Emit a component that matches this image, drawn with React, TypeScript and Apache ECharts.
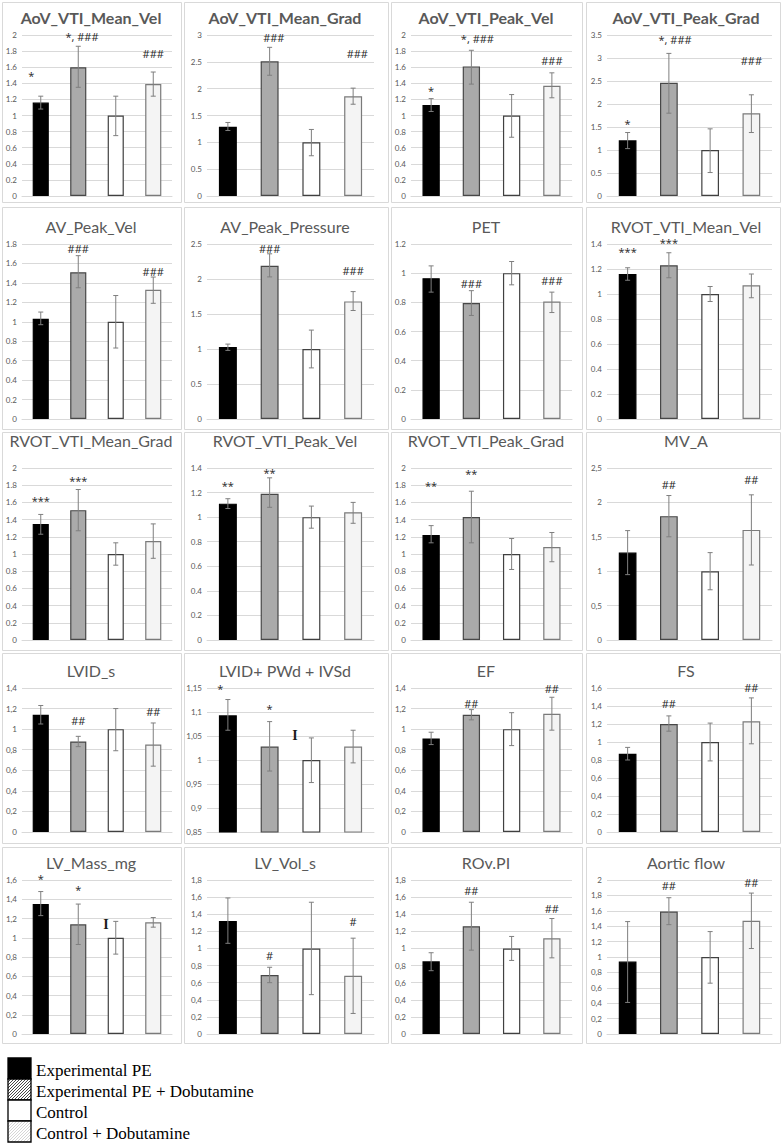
import React, { useEffect, useRef } from 'react';
import * as echarts from 'echarts';

const groups = ['Experimental PE', 'Experimental PE + Dobutamine', 'Control', 'Control + Dobutamine'];

const titles = [
  'AoV_VTI_Mean_Vel', 'AoV_VTI_Mean_Grad', 'AoV_VTI_Peak_Vel', 'AoV_VTI_Peak_Grad',
  'AV_Peak_Vel', 'AV_Peak_Pressure', 'PET', 'RVOT_VTI_Mean_Vel',
  'RVOT_VTI_Mean_Grad', 'RVOT_VTI_Peak_Vel', 'RVOT_VTI_Peak_Grad', 'MV_A',
  'LVID_s', 'LVID+ PWd + IVSd', 'EF', 'FS',
  'LV_Mass_mg', 'LV_Vol_s', 'ROv.PI', 'Aortic flow',
];

const means = [
  [1.16, 1.60, 1.00, 1.39],
  [1.29, 2.51, 1.00, 1.86],
  [1.13, 1.61, 1.00, 1.37],
  [1.21, 2.46, 1.00, 1.80],
  [1.03, 1.51, 1.00, 1.33],
  [1.03, 2.19, 1.00, 1.68],
  [0.965, 0.795, 1.00, 0.805],
  [1.16, 1.23, 1.00, 1.07],
  [1.35, 1.51, 1.00, 1.15],
  [1.11, 1.19, 1.00, 1.04],
  [1.22, 1.43, 1.00, 1.08],
  [1.27, 1.80, 1.00, 1.60],
  [1.14, 0.88, 1.00, 0.85],
  [1.093, 1.028, 1.00, 1.028],
  [0.91, 1.14, 1.00, 1.15],
  [0.87, 1.20, 1.00, 1.23],
  [1.35, 1.14, 1.00, 1.16],
  [1.32, 0.69, 1.00, 0.68],
  [0.85, 1.26, 1.00, 1.12],
  [0.94, 1.59, 1.00, 1.47],
];

const errHigh = [
  [1.24, 1.86, 1.24, 1.54],
  [1.37, 2.77, 1.24, 2.01],
  [1.21, 1.81, 1.26, 1.53],
  [1.38, 3.10, 1.46, 2.20],
  [1.10, 1.68, 1.27, 1.46],
  [1.07, 2.36, 1.27, 1.82],
  [1.05, 0.88, 1.08, 0.87],
  [1.21, 1.33, 1.06, 1.16],
  [1.46, 1.75, 1.13, 1.35],
  [1.15, 1.32, 1.09, 1.12],
  [1.33, 1.73, 1.18, 1.25],
  [1.59, 2.10, 1.27, 2.11],
  [1.23, 0.93, 1.20, 1.06],
  [1.126, 1.080, 1.046, 1.062],
  [0.97, 1.19, 1.16, 1.31],
  [0.94, 1.29, 1.21, 1.49],
  [1.48, 1.35, 1.17, 1.21],
  [1.59, 0.78, 1.54, 1.12],
  [0.95, 1.54, 1.14, 1.35],
  [1.46, 1.77, 1.33, 1.83],
];

const errLow = [
  [1.08, 1.35, 0.75, 1.24],
  [1.22, 2.25, 0.75, 1.71],
  [1.05, 1.39, 0.73, 1.22],
  [1.03, 1.80, 0.51, 1.38],
  [0.97, 1.35, 0.73, 1.19],
  [0.98, 2.03, 0.73, 1.55],
  [0.87, 0.71, 0.92, 0.73],
  [1.11, 1.13, 0.94, 0.97],
  [1.23, 1.27, 0.87, 0.95],
  [1.07, 1.08, 0.91, 0.95],
  [1.13, 1.13, 0.82, 0.91],
  [0.95, 1.50, 0.73, 1.09],
  [1.05, 0.83, 0.79, 0.64],
  [1.062, 0.977, 0.953, 0.994],
  [0.85, 1.09, 0.84, 0.99],
  [0.80, 1.12, 0.79, 0.98],
  [1.23, 0.93, 0.83, 1.11],
  [1.06, 0.60, 0.46, 0.24],
  [0.74, 0.98, 0.86, 0.89],
  [0.41, 1.42, 0.66, 1.11],
];

const yMin = [0, 0, 0, 0, 0, 0, 0, 0, 0, 0, 0, 0, 0, 0.85, 0, 0, 0, 0, 0, 0];
const yMax = [2, 3, 2, 3.5, 1.8, 2.5, 1.2, 1.4, 2, 1.4, 2, 2.5, 1.4, 1.15, 1.4, 1.6, 1.6, 1.8, 1.8, 2];
const yStep = [0.2, 0.5, 0.2, 0.5, 0.2, 0.5, 0.2, 0.2, 0.2, 0.2, 0.2, 0.5, 0.2, 0.05, 0.2, 0.2, 0.2, 0.2, 0.2, 0.2];
const commaDecimal = [false, false, false, false, false, false, false, false, false, false, false, true, true, true, true, true, true, true, true, true];

// [category position, y value, text]
const annotations: [number, number, string][][] = [
  [[-0.25, 1.5, '*'], [1.1, 1.98, '*, ###'], [3, 1.77, '###']],
  [[1.1, 2.96, '###'], [3.1, 2.65, '###']],
  [[0, 1.31, '*'], [1.15, 1.96, '*, ###'], [3, 1.68, '###']],
  [[0, 1.58, '*'], [1.15, 3.41, '*, ###'], [3, 2.94, '###']],
  [[1, 1.75, '###'], [3, 1.52, '###']],
  [[1, 2.44, '###'], [3, 2.12, '###']],
  [[1, 0.93, '###'], [3, 0.95, '###']],
  [[0, 1.34, '***'], [1, 1.41, '***']],
  [[0, 1.62, '***'], [1, 1.85, '***']],
  [[0, 1.26, '**'], [1, 1.36, '**']],
  [[0, 1.80, '**'], [1, 1.94, '**']],
  [[1, 2.26, '##'], [3, 2.33, '##']],
  [[1, 1.08, '##'], [3, 1.17, '##']],
  [[-0.18, 1.15, '*'], [1, 1.108, '*']],
  [[1, 1.25, '##'], [3, 1.40, '##']],
  [[1, 1.43, '##'], [3, 1.61, '##']],
  [[0, 1.62, '*'], [1, 1.5, '*']],
  [[1, 0.92, '#'], [3, 1.32, '#']],
  [[1, 1.68, '##'], [3, 1.47, '##']],
  [[1, 1.93, '##'], [3, 1.97, '##']],
];

// [panel index, category position, y value]
const glyphMarks: [number, number, number][] = [
  [13, 1.61, 1.051],
  [16, 1.74, 1.135],
];

const barFill = ['#000000', '#aaaaaa', '#ffffff', '#f4f4f4'];
const barBorder = ['#000000', '#474747', '#404040', '#7a7a7a'];

const gridX = [[22, 172], [207, 374], [411, 572], [607, 772]];
const gridY = [[35, 196], [244, 419], [468, 640], [688, 832], [880, 1034]];
const boxX = [[2, 181], [184, 388], [391, 582], [586, 780]];
const boxY = [[2, 202], [207, 429], [432, 650], [653, 843], [847, 1043]];
const titleCX = [91, 285, 486, 686];
const titleCY = [17, 226, 440, 670, 862];

function hatch(x0: number, y0: number, w: number, h: number, step: number, color: string) {
  const out: any[] = [];
  for (let c = x0 + y0 + step; c < x0 + w + y0 + h; c += step) {
    const xa = Math.max(x0, c - (y0 + h));
    const xb = Math.min(x0 + w, c - y0);
    if (xb <= xa) continue;
    out.push({
      type: 'line', silent: true,
      shape: { x1: xa, y1: c - xa, x2: xb, y2: c - xb },
      style: { stroke: color, lineWidth: 0.9 },
    });
  }
  return out;
}

export default function App() {
  const ref = useRef<HTMLDivElement>(null);
  useEffect(() => {
    const chart = echarts.init(ref.current!, null, { renderer: 'svg' });
    const grid: any[] = [];
    const xAxis: any[] = [];
    const yAxis: any[] = [];
    const series: any[] = [];
    const title: any[] = [];
    const graphic: any[] = [];

    titles.forEach((name, i) => {
      const r = Math.floor(i / 4);
      const c = i % 4;
      const [gx0, gx1] = gridX[c];
      const [gy0, gy1] = gridY[r];
      grid.push({ left: gx0, top: gy0, width: gx1 - gx0, height: gy1 - gy0 });
      xAxis.push({
        type: 'category', gridIndex: i, data: groups,
        axisLine: { lineStyle: { color: '#d9d9d9' } },
        axisTick: { show: false }, axisLabel: { show: false }, splitLine: { show: false },
      });
      const comma = commaDecimal[i];
      yAxis.push({
        type: 'value', gridIndex: i, min: yMin[i], max: yMax[i], interval: yStep[i],
        axisLine: { show: false }, axisTick: { show: false },
        splitLine: { lineStyle: { color: '#d9d9d9', width: 1 } },
        axisLabel: {
          fontSize: 8, color: '#595959', margin: 5, fontFamily: 'Lato',
          formatter: (v: number) => {
            const s = String(+v.toFixed(3));
            return comma ? s.replace('.', ',') : s;
          },
        },
      });
      series.push({
        type: 'bar', xAxisIndex: i, yAxisIndex: i, barWidth: '43%',
        data: means[i].map((v, k) => ({
          value: v,
          itemStyle: { color: barFill[k], borderColor: barBorder[k], borderWidth: 1.2 },
        })),
      });
      series.push({
        type: 'custom', xAxisIndex: i, yAxisIndex: i, z: 5,
        data: errHigh[i].map((hi, k) => [k, hi, errLow[i][k]]),
        encode: { x: 0, y: [1, 2] },
        renderItem: (params: any, api: any) => {
          const x = api.value(0);
          const pHi = api.coord([x, api.value(1)]);
          const pLo = api.coord([x, api.value(2)]);
          const cap = 2.5;
          const st = { stroke: '#7f7f7f', lineWidth: 1 };
          return {
            type: 'group',
            children: [
              { type: 'line', shape: { x1: pHi[0], y1: pHi[1], x2: pLo[0], y2: pLo[1] }, style: st },
              { type: 'line', shape: { x1: pHi[0] - cap, y1: pHi[1], x2: pHi[0] + cap, y2: pHi[1] }, style: st },
              { type: 'line', shape: { x1: pLo[0] - cap, y1: pLo[1], x2: pLo[0] + cap, y2: pLo[1] }, style: st },
            ],
          };
        },
      });
      const ann = annotations[i];
      series.push({
        type: 'custom', xAxisIndex: i, yAxisIndex: i, z: 6,
        data: ann.map((a) => [Math.round(a[0]), a[1]]),
        encode: { x: 0, y: 1 },
        renderItem: (params: any, api: any) => {
          const a = ann[params.dataIndex];
          const p = api.coord([api.value(0), api.value(1)]);
          const bw = api.size([1, 0])[0];
          return {
            type: 'text',
            x: p[0] + (a[0] - Math.round(a[0])) * bw,
            y: p[1],
            style: {
              text: a[2], fill: '#262626', fontSize: 11, lineHeight: 9, fontFamily: 'Open Sans',
              align: 'center', verticalAlign: 'middle',
            },
          };
        },
      });
      const marks = glyphMarks.filter((g) => g[0] === i);
      if (marks.length) {
        series.push({
          type: 'custom', xAxisIndex: i, yAxisIndex: i, z: 6,
          data: marks.map((g) => [Math.round(g[1]), g[2]]),
          encode: { x: 0, y: 1 },
          renderItem: (params: any, api: any) => {
            const g = marks[params.dataIndex];
            const p = api.coord([api.value(0), api.value(1)]);
            const bw = api.size([1, 0])[0];
            return {
              type: 'text',
              x: p[0] + (g[1] - Math.round(g[1])) * bw,
              y: p[1],
              style: {
                text: 'I', fill: '#1a1a1a', fontSize: 14, fontWeight: 'bold',
                fontFamily: 'Liberation Serif', align: 'center', verticalAlign: 'middle',
              },
            };
          },
        });
      }
      title.push({
        text: name, left: titleCX[c], top: titleCY[r] - 8, textAlign: 'center', padding: 0,
        textStyle: {
          fontSize: 16, lineHeight: 16, fontWeight: r === 0 ? 'bold' : 'normal', color: '#595959', fontFamily: 'Lato',
        },
      });
      const [bx0, bx1] = boxX[c];
      const [by0, by1] = boxY[r];
      graphic.push({
        type: 'rect', silent: true, z: -10,
        shape: { x: bx0 + 0.5, y: by0 + 0.5, width: bx1 - bx0, height: by1 - by0 },
        style: { fill: 'none', stroke: '#d9d9d9', lineWidth: 1 },
      });
    });

    // legend
    const lx = 8, ly = 1058, lw = 23, lh = 21;
    groups.forEach((g, k) => {
      const y = ly + k * lh;
      graphic.push({
        type: 'rect', silent: true,
        shape: { x: lx, y, width: lw, height: lh },
        style: { fill: k === 0 ? '#000000' : '#ffffff', stroke: 'none' },
      });
      if (k === 1) graphic.push(...hatch(lx, y, lw, lh, 3, '#333333'));
      if (k === 3) graphic.push(...hatch(lx, y, lw, lh, 3, '#d0d0d0'));
      graphic.push({
        type: 'rect', silent: true,
        shape: { x: lx, y, width: lw, height: lh },
        style: { fill: 'none', stroke: '#000000', lineWidth: 1.3 },
      });
      graphic.push({
        type: 'text', silent: true, x: lx + lw + 5, y: y + lh / 2 + 2,
        style: {
          text: g, fill: '#000000', fontSize: 17, fontFamily: 'Liberation Serif',
          align: 'left', verticalAlign: 'middle',
        },
      });
    });

    chart.setOption({
      animation: false,
      backgroundColor: '#ffffff',
      title, grid, xAxis, yAxis, series, graphic,
    });
    return () => chart.dispose();
  }, []);
  return <div ref={ref} style={{ position: 'absolute', left: 0, top: 0, width: 782, height: 1147 }} />;
}
